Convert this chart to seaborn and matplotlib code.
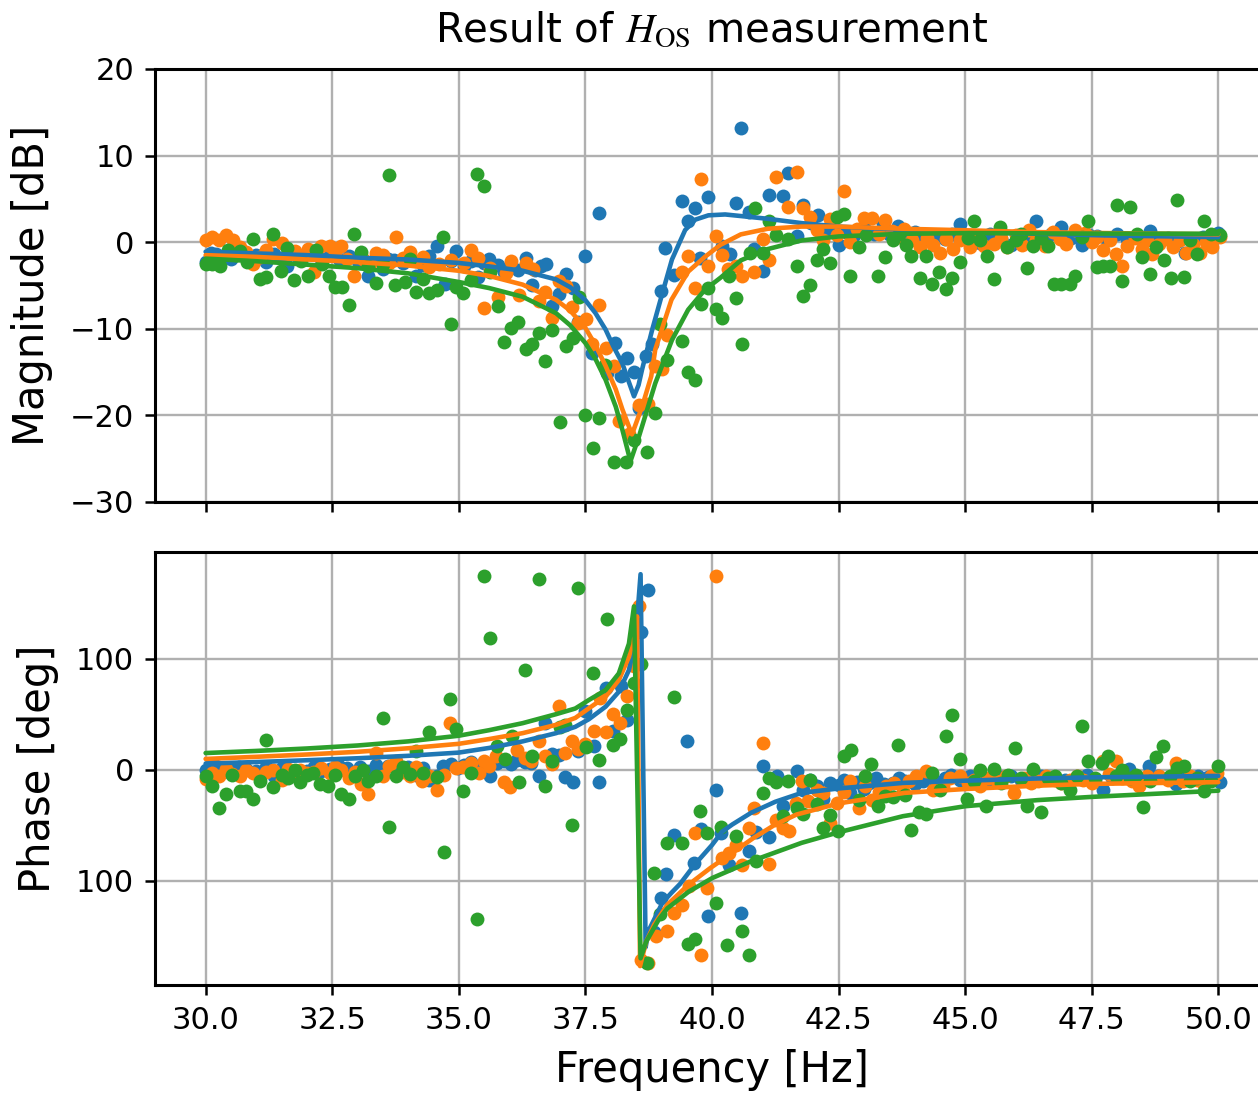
# ==========================================================
# H_OS MEASUREMENT - MAGNITUDE / PHASE WITH FITTED CURVES
# ==========================================================

import numpy as np
import matplotlib
matplotlib.use("Agg")
import matplotlib.pyplot as plt
import seaborn as sns

# ==========================================================
# DATA
# ==========================================================

# --- magnitude, measured points [Hz], [dB] ---

mag_blue_f = [30.0, 30.1, 30.2, 30.35, 30.5, 30.65, 30.8, 31.0, 31.2, 31.36, 31.5, 31.6, 31.8, 32.0, 32.15, 32.28,
              32.45, 32.64, 32.84, 33.0, 33.2, 33.37, 33.5, 33.6, 33.73, 33.9, 34.0, 34.16, 34.3, 34.42, 34.57,
              34.72, 34.85, 34.95, 35.1, 35.24, 35.37, 35.5, 35.6, 35.77, 35.9, 36.03, 36.16, 36.33, 36.44, 36.5,
              36.62, 36.72, 36.85, 36.98, 37.11, 37.26, 37.36, 37.5, 37.64, 37.77, 37.93, 38.08, 38.2, 38.33, 38.46,
              38.56, 38.69, 38.82, 39.0, 39.08, 39.25, 39.4, 39.52, 39.66, 39.77, 39.92, 40.2, 40.35, 40.47, 40.58,
              40.73, 40.83, 41.0, 41.13, 41.4, 41.51, 41.67, 41.8, 41.95, 42.1, 42.3, 42.5, 42.65, 42.8, 43.0,
              43.2, 43.38, 43.5, 43.67, 43.85, 44.0, 44.2, 44.4, 44.6, 44.75, 44.9, 45.1, 45.3, 45.5, 45.7, 45.9,
              46.1, 46.25, 46.4, 46.55, 46.7, 46.9, 47.1, 47.3, 47.45, 47.6, 47.8, 48.0, 48.2, 48.4, 48.66, 48.8,
              49.0, 49.2, 49.34, 49.5, 49.7, 49.85, 50.0]
mag_blue_db = [-2.3, -1.2, -1.35, -1.6, -1.9, -1.3, -1.7, -1.5, -2.3, -1.35, -1.8, -2.7, -1.6, -1.3, -1.0, -1.9,
               -1.5, -1.9, -1.65, -2.2, -3.85, -1.7, -3.1, -2.0, -2.1, -2.4, -1.9, -3.85, -2.6, -1.65, -0.4,
               -4.8, -2.2, -1.0, -2.8, -2.2, -4.0, -2.4, -2.0, -2.6, -3.4, -2.7, -3.2, -1.8, -4.9, -3.2,
               -2.8, -2.5, -7.4, -6.0, -3.7, -5.3, -9.2, -1.65, -12.8, 3.35, -15.1, -11.6, -15.5, -13.4, -15.0,
               -19.2, -13.2, -11.8, -5.6, -0.7, -3.8, 4.7, 2.4, 4.0, -1.8, 5.2, -0.5, -1.4, 4.5, 13.2,
               3.5, -0.8, -3.3, 5.5, 5.3, 8.0, 0.7, 4.3, 2.2, 3.1, 1.5, -0.3, 1.2, 0.8, 1.6,
               0.9, 2.2, 1.0, 1.9, 0.5, 1.2, 0.3, 0.8, 0.4, 0.9, 2.05, 0.6, -0.1, 0.9, 0.4, -0.3,
               0.8, 0.3, 2.4, 0.6, 0.9, 1.7, 0.5, -0.35, 0.8, 0.7, 0.2, 0.9, 0.4, 0.6, 1.3, 0.2,
               0.5, 0.1, -1.3, 0.3, 0.6, -0.3, 1.1]

mag_orange_f = [30.0, 30.13, 30.27, 30.4, 30.54, 30.67, 30.8, 30.94, 31.07, 31.2, 31.33, 31.5, 31.63, 31.76,
                31.9, 32.03, 32.15, 32.28, 32.45, 32.55, 32.68, 32.8, 32.94, 33.1, 33.24, 33.37, 33.5, 33.63,
                33.76, 33.9, 34.03, 34.16, 34.3, 34.42, 34.6, 34.85, 35.1, 35.24, 35.37, 35.5, 35.62, 35.77,
                35.93, 36.03, 36.19, 36.33, 36.47, 36.59, 36.71, 36.84, 36.98, 37.11, 37.24, 37.36, 37.52,
                37.64, 37.77, 37.91, 38.06, 38.16, 38.36, 38.56, 38.74, 38.87, 39.02, 39.11, 39.4, 39.53,
                39.66, 39.78, 39.92, 40.07, 40.2, 40.31, 40.47, 40.6, 40.83, 41.0, 41.13, 41.27, 41.51, 41.67,
                41.8, 41.93, 42.07, 42.2, 42.33, 42.47, 42.6, 42.73, 42.87, 43.0, 43.17, 43.3, 43.42, 43.55,
                43.67, 43.8, 43.95, 44.1, 44.25, 44.37, 44.5, 44.63, 44.77, 44.9, 45.1, 45.23, 45.37, 45.57,
                45.7, 45.83, 46.0, 46.13, 46.27, 46.4, 46.57, 46.73, 46.87, 47.0, 47.17, 47.37, 47.5, 47.6,
                47.73, 47.87, 47.98, 48.1, 48.2, 48.35, 48.5, 48.6, 48.7, 48.83, 48.95, 49.1, 49.25, 49.37,
                49.5, 49.63, 49.75, 49.87, 50.03]
mag_orange_db = [0.3, 0.65, 0.2, 0.8, 0.2, -0.6, -1.15, -2.5, -1.7, -0.9, 0.4, -0.1, -1.3, -1.0,
                 -1.6, -0.8, -3.5, -0.4, -0.4, -1.4, -0.4, -1.9, -3.85, -2.0, -2.5, -1.2, -1.5, -2.4,
                 0.65, -1.8, -1.15, -2.2, -1.7, -2.9, -2.5, -2.1, -2.4, -0.9, -1.8, -7.6, -3.0, -6.3,
                 -3.6, -2.2, -6.1, -2.4, -3.1, -6.8, -5.8, -8.8, -4.5, -5.1, -7.5, -9.3, -8.9,
                 -11.8, -7.3, -12.2, -14.3, -20.7, -22.2, -18.8, -18.7, -14.3, -14.7, -10.7, -3.5, -1.6,
                 -5.3, 7.3, -2.8, 0.7, -1.5, -3.05, -2.7, -3.95, -3.5, 0.4, -2.1, 7.5, 4.1, 8.1,
                 4.0, 2.9, 1.4, 0.2, 2.7, 0.8, 5.9, 0.0, 1.5, 2.8, 2.8, 1.0, 2.6, 1.3,
                 0.6, 1.55, 0.3, -0.6, 0.5, -0.3, -1.2, 0.4, -0.8, 0.3, -0.6, 0.6, -0.4, -0.2,
                 0.5, -0.6, 0.8, -0.3, 1.4, 0.2, -0.4, 1.2, 0.4, -0.2, 1.4, 1.05, 0.0, 0.6,
                 -0.9, 0.2, -1.4, -2.8, -0.4, 0.5, -0.8, 0.3, -1.4, -0.2, 0.4, -0.6, 0.2, -1.2,
                 -0.2, -1.3, 0.0, -0.6, 0.6]

mag_green_f = [30.0, 30.13, 30.28, 30.45, 30.6, 30.68, 30.81, 30.93, 31.07, 31.2, 31.34, 31.49, 31.6, 31.74,
               31.88, 32.02, 32.18, 32.3, 32.43, 32.55, 32.7, 32.83, 32.94, 33.07, 33.2, 33.36, 33.5, 33.62,
               33.75, 33.93, 34.03, 34.16, 34.3, 34.42, 34.57, 34.68, 34.85, 34.95, 35.08, 35.24, 35.35, 35.5,
               35.62, 35.77, 35.9, 36.03, 36.16, 36.33, 36.44, 36.59, 36.7, 36.85, 36.99, 37.11, 37.26, 37.38,
               37.5, 37.65, 37.77, 37.88, 38.06, 38.31, 38.46, 38.72, 38.87, 38.98, 39.11, 39.4, 39.52, 39.66,
               39.79, 39.92, 40.07, 40.2, 40.33, 40.47, 40.6, 40.75, 40.85, 41.0, 41.13, 41.27, 41.5, 41.67,
               41.8, 41.93, 42.07, 42.2, 42.33, 42.47, 42.6, 42.73, 42.9, 43.05, 43.27, 43.42, 43.57, 43.7,
               43.83, 43.93, 44.1, 44.23, 44.35, 44.49, 44.63, 44.75, 44.9, 45.05, 45.17, 45.3, 45.43, 45.57,
               45.69, 45.83, 46.0, 46.1, 46.23, 46.35, 46.5, 46.63, 46.75, 46.9, 47.07, 47.17, 47.3, 47.43,
               47.6, 47.73, 47.87, 47.99, 48.1, 48.25, 48.4, 48.5, 48.65, 48.77, 48.93, 49.07, 49.18, 49.33,
               49.45, 49.58, 49.72, 49.85, 50.03]
mag_green_db = [-2.5, -2.5, -2.8, -0.9, -1.5, -1.0, -2.3, 0.4, -4.2, -4.0, 1.0, -3.3, -0.65, -4.4,
                -2.2, -3.95, -0.9, -2.5, -3.95, -5.2, -5.2, -7.3, 1.0, -1.15, -2.8, -4.7, -2.5, 7.8,
                -5.0, -4.6, -1.9, -5.8, -4.2, -5.9, -5.5, 0.65, -9.4, -5.2, -5.9, -4.4, 7.9, 6.5,
                -3.4, -7.35, -11.5, -9.9, -9.2, -12.3, -11.8, -10.5, -13.7, -10.1, -20.8, -12.0, -11.1, -6.3,
                -20.0, -23.8, -20.3, -14.2, -25.4, -25.4, -22.8, -24.2, -19.7, -9.5, -13.6, -11.4, -15.0, -15.9,
                -7.1, -5.3, -7.75, -8.8, -3.9, -6.4, -11.8, -1.2, 4.0, -1.2, 2.5, 0.8, 0.4, -2.8,
                -6.2, -5.0, -2.1, -0.8, -2.4, 2.9, 3.3, -3.9, -0.6, 0.8, -3.95, -1.7, 0.2, 1.0,
                -0.3, -1.55, -4.1, -1.55, -4.8, -3.5, -5.4, -4.1, -2.3, 0.5, 2.4, 0.2, -1.6, -4.2,
                1.8, -0.6, 0.3, 0.9, -3.0, -0.5, 0.5, -0.5, -4.85, -4.85, -4.8, -3.9, 0.6, 2.5,
                -2.9, -2.8, -2.8, 4.3, -4.5, 4.1, 1.0, -1.7, -3.7, -0.6, -2.1, -4.1, 4.9, -4.0,
                0.3, -1.4, 2.5, 1.0, 0.8]

# --- magnitude, fitted curves ---

fit_mag_blue_f = [30.0, 31.0, 32.0, 33.0, 34.0, 35.0, 35.6, 36.26, 36.92, 37.2, 37.5, 37.7, 37.9, 38.05, 38.23,
                  38.35, 38.46, 38.55, 38.62, 38.72, 38.82, 39.02, 39.21, 39.47, 39.67, 39.93, 40.26, 40.6,
                  41.1, 41.77, 42.5, 43.77, 45.1, 46.43, 47.77, 50.0]
fit_mag_blue_db = [-1.1, -1.3, -1.5, -1.8, -2.0, -2.4, -2.8, -3.3, -4.3, -5.2, -6.7, -8.2, -10.1, -12.0, -14.0,
                   -16.0, -17.8, -16.5, -14.7, -12.4, -10.1, -5.9, -2.0, 1.4, 2.6, 3.1, 3.2, 3.0,
                   2.7, 2.2, 1.8, 1.43, 1.16, 0.97, 0.78, 0.58]

fit_mag_orange_f = [30.0, 31.0, 32.0, 33.0, 34.0, 35.0, 35.6, 36.26, 36.92, 37.2, 37.5, 37.7, 37.9, 38.1, 38.23,
                    38.42, 38.62, 38.8, 38.88, 39.2, 39.53, 39.86, 40.17, 40.57, 41.1, 41.77, 42.5, 43.77,
                    45.1, 46.43, 47.77, 50.0]
fit_mag_orange_db = [-1.5, -1.7, -2.0, -2.3, -2.7, -3.3, -3.9, -4.9, -6.65, -7.9, -9.9, -11.9, -14.3, -17.0, -19.3,
                     -22.2, -19.0, -15.5, -12.4, -6.65, -3.4, -1.7, -0.3, 0.9, 1.55, 1.8, 1.8, 1.55,
                     1.36, 1.16, 1.05, 0.9]

fit_mag_green_f = [30.0, 31.0, 32.0, 33.0, 34.0, 35.0, 35.6, 36.26, 36.92, 37.2, 37.5, 37.7, 37.9, 38.1, 38.23,
                   38.39, 38.56, 38.88, 39.21, 39.53, 39.86, 40.17, 40.57, 41.1, 41.77, 42.5, 43.77, 45.1,
                   47.0, 50.0]
fit_mag_green_db = [-1.9, -2.2, -2.6, -3.0, -3.6, -4.6, -5.3, -6.3, -8.2, -9.6, -11.65, -13.5, -15.9, -19.0, -21.65,
                    -25.3, -22.4, -16.3, -11.3, -7.8, -5.5, -4.1, -2.1, -0.8, 0.2, 0.66, 0.97, 1.05,
                    1.0, 0.97]

# --- phase, measured points [Hz], [deg] ---

ph_blue_f = [30.0, 30.1, 30.2, 30.35, 30.5, 30.65, 30.8, 31.0, 31.2, 31.36, 31.5, 31.65, 31.79, 32.0, 32.15,
             32.28, 32.45, 32.64, 32.8, 32.9, 33.05, 33.2, 33.37, 33.5, 33.6, 33.76, 33.9, 34.0, 34.16, 34.3,
             34.42, 34.57, 34.68, 34.85, 34.98, 35.1, 35.24, 35.37, 35.49, 35.62, 35.75, 35.9, 36.03, 36.15,
             36.3, 36.43, 36.58, 36.7, 36.84, 36.97, 37.1, 37.25, 37.36, 37.5, 37.67, 37.77, 37.9, 38.05, 38.2,
             38.33, 38.59, 38.74, 38.85, 39.0, 39.1, 39.25, 39.51, 39.65, 39.79, 39.92, 40.07, 40.17, 40.33,
             40.58, 40.73, 40.87, 41.0, 41.13, 41.29, 41.4, 41.67, 41.8, 41.93, 42.07, 42.2, 42.33, 42.5,
             42.6, 42.73, 42.87, 43.0, 43.1, 43.23, 43.4, 43.57, 43.7, 43.82, 44.0, 44.17, 44.3, 44.43, 44.6,
             44.73, 44.9, 45.1, 45.3, 45.5, 45.7, 45.9, 46.1, 46.3, 46.5, 46.7, 46.97, 47.2, 47.4, 47.57,
             47.73, 47.9, 48.05, 48.23, 48.4, 48.63, 48.8, 49.0, 49.17, 49.3, 49.43, 49.6, 49.8, 50.03]
ph_blue_deg = [0.0, 4.0, 3.0, -2.0, 1.5, 2.0, 0.6, -1.0, 2.0, -5.4, 1.0, -2.0, -3.0, -1.5, 2.0,
               -1.5, 0.5, 3.0, 1.0, -3.0, 2.0, -1.0, 4.5, 0.0, 3.0, 1.5, -1.0, 2.0, -4.5, 1.0,
               -9.0, -5.4, 3.0, 5.0, 1.5, 4.0, 7.0, 2.0, 3.9, -5.4, 6.0, 8.0, 5.0, 9.0,
               7.0, 6.0, -5.4, 41.9, 14.0, 12.9, -6.6, -11.4, 17.0, 53.0, 21.0, -10.8, 73.1, 35.0, 75.2,
               44.8, 124.0, 162.0, -146.3, -115.8, -94.0, -59.1, 26.0, -84.2, -53.1, -131.9, -18.5, -57.0, -85.6,
               -129.0, -73.6, -56.5, 3.0, -60.7, -6.0, -33.0, -1.5, -18.0, -9.0, -15.0, -26.4, -12.0, -14.0,
               -9.0, -21.0, -11.0, -17.4, -12.0, -7.5, -13.0, -12.0, -8.0, -10.5, -13.0, -10.5, -7.0, -11.4, -8.0,
               -4.5, -9.0, -6.0, -10.0, -9.0, -7.0, -5.4, -9.0, -6.0, -6.0, -8.0, -9.0, -7.0, -5.0, -9.0,
               -18.0, -8.0, -5.0, 0.6, -7.0, 3.0, -6.0, -8.0, -12.6, -5.0, -9.0, -6.0, -7.0, -11.4]

ph_orange_f = [30.0, 30.13, 30.26, 30.4, 30.53, 30.67, 30.8, 30.94, 31.07, 31.2, 31.33, 31.5, 31.63, 31.75,
               31.86, 32.0, 32.15, 32.28, 32.45, 32.55, 32.68, 32.83, 32.95, 33.07, 33.2, 33.37, 33.5, 33.63,
               33.76, 33.9, 34.03, 34.16, 34.28, 34.42, 34.57, 34.7, 34.83, 34.95, 35.08, 35.25, 35.4, 35.5,
               35.6, 35.73, 35.89, 36.02, 36.15, 36.3, 36.42, 36.58, 36.7, 36.84, 36.97, 37.09, 37.23, 37.36,
               37.5, 37.67, 37.78, 37.91, 38.05, 38.18, 38.33, 38.46, 38.55, 38.6, 38.74, 38.9, 39.11, 39.26,
               39.41, 39.54, 39.66, 39.79, 39.9, 40.07, 40.2, 40.33, 40.47, 40.6, 40.73, 40.83, 41.0, 41.13,
               41.27, 41.4, 41.53, 41.66, 41.77, 41.9, 42.07, 42.2, 42.33, 42.47, 42.6, 42.73, 42.9, 43.03,
               43.17, 43.3, 43.43, 43.6, 43.77, 43.9, 44.03, 44.23, 44.37, 44.57, 44.7, 44.9, 45.05, 45.17,
               45.3, 45.45, 45.63, 45.8, 45.97, 46.17, 46.3, 46.43, 46.6, 46.77, 46.9, 47.07, 47.2, 47.33,
               47.5, 47.73, 47.85, 47.97, 48.1, 48.3, 48.43, 48.6, 48.83, 49.0, 49.17, 49.3, 49.45, 49.57,
               49.7, 49.85, 49.97]
ph_orange_deg = [-8.4, -3.0, -6.0, 0.6, -4.0, -6.0, 0.0, -3.0, -6.6, -2.0, -0.6, -9.0, 0.6, -4.0,
                 -0.6, -3.0, -2.0, 1.5, -3.0, 2.0, 0.0, -7.5, -2.0, -13.4, -21.8, 14.9, -6.0, 3.0,
                 7.5, -2.0, -5.4, 2.0, -10.4, -6.0, -18.8, -4.5, 42.4, 1.5, 2.1, 6.0, -3.0, 8.0,
                 3.0, 12.0, -11.0, -15.6, 17.4, 10.0, 7.5, 25.4, 12.0, 5.4, 56.9, 15.0, 25.4, 18.6,
                 23.0, 35.0, 64.8, 34.3, 50.0, 41.8, 66.3, 93.1, 147.2, -171.6, -174.0, -150.0, -145.4, -129.0,
                 -122.4, -104.5, -57.3, -167.2, -106.6, 174.6, -80.0, -75.0, -68.0, -85.6, -52.6, -34.5, 24.0, -85.0,
                 -45.0, -52.6, -55.6, -30.0, -10.5, -28.5, -18.0, -21.0, -48.0, -30.0, -20.0, -10.5, -34.5, -15.0,
                 -27.0, -20.0, -15.0, -12.0, -19.5, -10.0, -6.0, -1.5, -18.0, -15.0, -8.0, -6.0, -12.0, -9.0,
                 -15.0, -8.0, -10.5, -6.0, -21.0, -7.5, -12.0, -10.5, -6.0, -9.0, -12.0, -9.0, -6.0, -9.0,
                 -12.0, 7.5, -4.0, 7.5, -8.0, -10.0, -15.0, -6.0, -5.4, -9.0, 6.0, -10.0, -6.0, -9.0,
                 -12.0, -6.0, -3.0]

ph_green_f = [30.0, 30.13, 30.26, 30.4, 30.53, 30.67, 30.8, 30.93, 31.07, 31.2, 31.34, 31.5, 31.63, 31.76,
              31.87, 32.0, 32.13, 32.26, 32.41, 32.55, 32.68, 32.83, 32.96, 33.1, 33.2, 33.37, 33.5, 33.62,
              33.76, 33.9, 34.03, 34.16, 34.3, 34.42, 34.57, 34.7, 34.83, 34.95, 35.09, 35.24, 35.36, 35.5,
              35.62, 35.76, 35.92, 36.05, 36.18, 36.31, 36.44, 36.59, 36.71, 36.85, 36.99, 37.1, 37.24, 37.36,
              37.52, 37.66, 37.77, 37.92, 38.05, 38.18, 38.33, 38.46, 38.59, 38.72, 38.85, 38.98, 39.11, 39.25,
              39.4, 39.52, 39.66, 39.77, 39.91, 40.07, 40.17, 40.3, 40.47, 40.59, 40.73, 40.87, 41.0, 41.13,
              41.27, 41.4, 41.51, 41.67, 41.8, 41.93, 42.07, 42.2, 42.33, 42.49, 42.6, 42.75, 42.9, 43.02,
              43.15, 43.28, 43.42, 43.57, 43.68, 43.82, 43.93, 44.09, 44.23, 44.35, 44.5, 44.63, 44.75, 44.89,
              45.03, 45.17, 45.3, 45.42, 45.57, 45.7, 45.85, 45.98, 46.1, 46.23, 46.35, 46.5, 46.63, 46.77,
              46.9, 47.07, 47.2, 47.31, 47.43, 47.57, 47.7, 47.83, 47.97, 48.1, 48.25, 48.38, 48.51, 48.65,
              48.77, 48.91, 49.05, 49.18, 49.33, 49.45, 49.58, 49.71, 49.85, 50.0]
ph_green_deg = [-5.4, -14.9, -34.3, -22.4, -4.5, -19.4, -19.4, -26.3, -10.0, 26.3, -16.1, -4.5, -8.0, 0.0,
                -11.0, -5.0, -3.0, -13.4, -14.9, -4.5, -22.4, -26.9, -6.0, -0.6, -10.4, -6.0, 46.3, -51.6,
                -6.0, 2.4, -4.0, 16.4, -3.0, 34.3, -6.6, -74.6, 63.3, 36.4, -19.4, -3.3, -134.3, 174.6,
                118.5, 21.0, 9.9, 29.9, -11.0, 90.1, 12.5, 171.6, -14.9, 8.0, 38.8, 40.4, -50.1, 163.6,
                20.3, 87.2, 9.0, 135.2, 22.4, 27.8, 53.7, 78.2, 95.5, -174.0, -93.4, -130.0, -65.7, 65.1,
                -66.3, -156.7, -152.2, -37.3, -57.3, -120.0, -51.3, -158.0, -60.0, -145.6, -166.7, -82.6, -21.0, -7.5,
                -11.4, -42.0, -10.5, -34.5, -39.6, -9.0, -30.6, -52.6, -40.5, -55.6, 12.0, 18.0, -27.6, -5.4,
                5.1, -32.4, -23.4, -24.6, 22.5, -22.5, -54.6, -38.4, -39.6, -3.0, -18.0, 30.0, 49.5, 9.6,
                -26.4, -10.5, 0.0, -32.4, 0.6, -12.0, -5.0, 19.5, -8.0, -32.4, 0.6, -38.1, -8.0, -5.4,
                -12.0, -18.0, -6.0, 39.0, 7.5, -8.0, 6.0, 12.0, -6.0, -0.6, -8.0, -5.0, -33.6, -10.5,
                11.4, 21.0, -6.0, 1.5, 3.0, -10.0, -8.0, -19.5, -10.0, 3.0]

# --- phase, fitted curves ---

fit_ph_blue_f = [30.0, 31.0, 32.0, 33.0, 34.0, 35.0, 35.6, 36.26, 36.92, 37.3, 37.57, 37.9, 38.16, 38.36, 38.49,
                 38.59, 38.69, 38.75, 38.88, 39.02, 39.2, 39.37, 39.67, 40.0, 40.2, 40.4, 40.77, 41.25, 41.77,
                 42.5, 43.77, 45.0, 46.43, 47.5, 50.0]
fit_ph_blue_deg = [5.4, 6.8, 8.4, 10.2, 12.4, 15.3, 19.5, 25.4, 32.8, 38.5, 45.4, 56.7, 70.1, 89.6, 116.4,
                   176.0, -160.0, -145.0, -133.0, -120.0, -111.0, -103.0, -85.0, -68.0, -56.0, -49.5, -39.0, -29.0, -21.0,
                   -17.0, -12.0, -10.0, -8.0, -7.0, -5.7]

fit_ph_orange_f = [30.0, 31.0, 32.0, 33.0, 34.0, 35.0, 35.6, 36.26, 36.92, 37.3, 37.57, 37.9, 38.16, 38.36, 38.46,
                   38.52, 38.58, 38.7, 38.86, 39.12, 39.54, 39.97, 40.4, 40.82, 41.25, 41.67, 42.5, 43.8, 45.0,
                   46.43, 47.5, 50.0]
fit_ph_orange_deg = [9.6, 11.5, 13.6, 16.0, 19.2, 23.2, 27.5, 32.8, 40.3, 46.5, 55.2, 65.7, 80.6, 101.5, 119.4,
                     138.0, -177.0, -155.0, -139.6, -121.6, -103.6, -88.6, -75.0, -61.6, -49.5, -40.5, -30.5, -21.0, -17.5,
                     -14.5, -12.9, -11.3]

fit_ph_green_f = [30.0, 31.0, 32.0, 33.0, 34.0, 35.0, 35.6, 36.26, 36.92, 37.3, 37.57, 37.9, 38.16, 38.36, 38.46,
                  38.59, 38.7, 38.78, 38.95, 39.12, 39.54, 40.01, 40.77, 41.77, 42.5, 43.77, 45.0, 46.43, 47.5,
                  50.0]
fit_ph_green_deg = [14.9, 16.8, 19.0, 21.7, 25.4, 30.5, 35.5, 41.8, 49.9, 55.0, 62.7, 71.6, 86.6, 113.4, 147.0,
                    -170.0, -155.0, -148.6, -135.0, -125.0, -110.0, -97.6, -82.6, -66.0, -56.5, -42.0, -33.0, -27.5, -24.6,
                    -19.0]

colors = ["#1f77b4", "#ff7f0e", "#2ca02c"]

# ==========================================================
# STYLE
# ==========================================================

sns.set_style("white")
plt.rcParams["font.family"] = ["DejaVu Sans"]
plt.rcParams["axes.unicode_minus"] = True
plt.rcParams["text.color"] = "black"
plt.rcParams["axes.labelcolor"] = "black"
plt.rcParams["xtick.color"] = "black"
plt.rcParams["ytick.color"] = "black"

# ==========================================================
# FIGURE
# ==========================================================

fig = plt.figure(figsize=(12.58, 10.95), dpi=100)

ax_mag = fig.add_axes([0.1232, 0.5416, 0.8855, 0.3954])
ax_ph = fig.add_axes([0.1232, 0.1005, 0.8855, 0.3954], sharex=ax_mag)

mag_points = [(mag_blue_f, mag_blue_db), (mag_orange_f, mag_orange_db), (mag_green_f, mag_green_db)]
mag_fits = [(fit_mag_blue_f, fit_mag_blue_db), (fit_mag_orange_f, fit_mag_orange_db),
            (fit_mag_green_f, fit_mag_green_db)]
ph_points = [(ph_blue_f, ph_blue_deg), (ph_orange_f, ph_orange_deg), (ph_green_f, ph_green_deg)]
ph_fits = [(fit_ph_blue_f, fit_ph_blue_deg), (fit_ph_orange_f, fit_ph_orange_deg),
           (fit_ph_green_f, fit_ph_green_deg)]

for ax, points, fits in [(ax_mag, mag_points, mag_fits), (ax_ph, ph_points, ph_fits)]:

    for (f, v), c in zip(points, colors):
        sns.scatterplot(x=f, y=v, color=c, s=100, linewidth=0, ax=ax, zorder=2)

    for (f, v), c in zip(fits, colors):
        sns.lineplot(x=f, y=v, color=c, linewidth=3.3, sort=False, estimator=None, ax=ax, zorder=3)

    ax.grid(True, color="#b0b0b0", linewidth=1.7)
    ax.set_axisbelow(True)

    for side in ["top", "bottom", "left", "right"]:
        ax.spines[side].set_linewidth(2.2)
        ax.spines[side].set_color("black")

    ax.tick_params(axis="both", which="major", direction="out", length=7, width=1.8,
                   labelsize=22, pad=8, colors="black", left=True, bottom=True)

# ==========================================================
# AXES SETTINGS
# ==========================================================

ax_mag.set_xlim(29.0, 51.0)
ax_mag.set_xticks([30.0, 32.5, 35.0, 37.5, 40.0, 42.5, 45.0, 47.5, 50.0])
ax_mag.tick_params(axis="x", labelbottom=False)

ax_mag.set_ylim(-30, 20)
ax_mag.set_yticks([-30, -20, -10, 0, 10, 20])

ax_ph.set_ylim(-194, 196)
ax_ph.set_yticks([-100, 0, 100])
ax_ph.set_yticklabels(["100", "0", "100"])

ax_mag.set_ylabel("Magnitude [dB]", fontsize=30, labelpad=12)
ax_ph.set_ylabel("Phase [deg]", fontsize=30, labelpad=12)
ax_ph.set_xlabel("Frequency [Hz]", fontsize=30, labelpad=10)

ax_mag.set_title(r"Result of $H_{\mathrm{OS}}$ measurement", fontsize=29, pad=20,
                 math_fontfamily="stix")

fig.savefig("out.png", dpi=100)
